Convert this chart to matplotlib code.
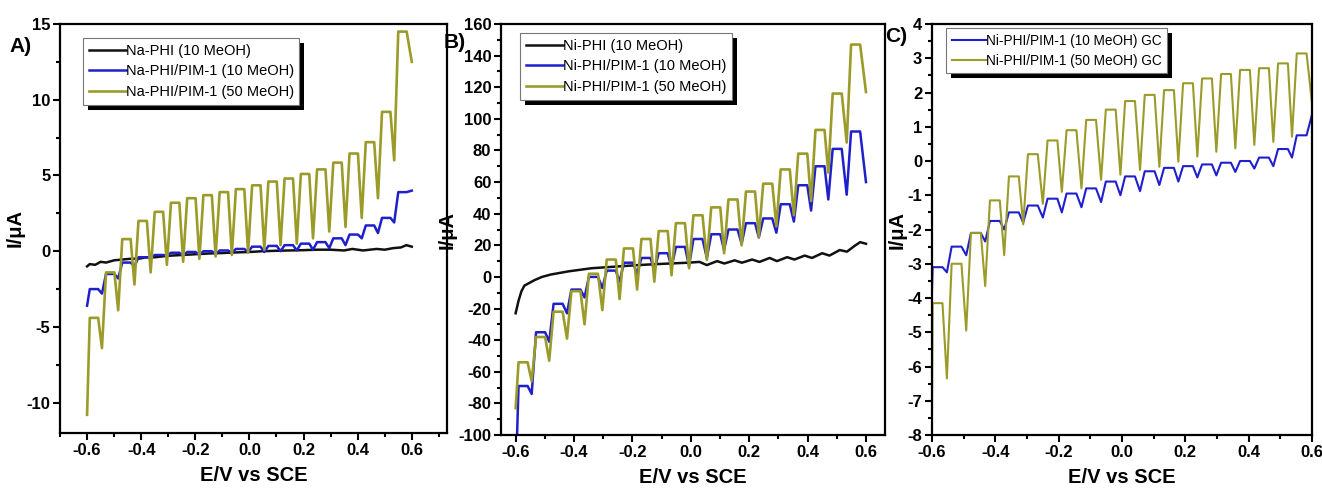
import matplotlib
matplotlib.use("Agg")
import matplotlib.pyplot as plt
from matplotlib.ticker import MultipleLocator
from matplotlib.patches import Rectangle

plt.rcParams['font.family'] = ['Liberation Sans', 'DejaVu Sans']
plt.rcParams['font.weight'] = 'bold'
plt.rcParams['axes.unicode_minus'] = False

GOLD = '#9b9b2a'
BLUE = '#1f1fcc'
BLACK = '#111111'

# ---- Panel A : Na-PHI ----
a_trough_E = [-0.545, -0.485, -0.425, -0.365, -0.305, -0.245, -0.185, -0.125, -0.065, -0.005,
              0.055, 0.115, 0.175, 0.235, 0.295, 0.355, 0.415, 0.475, 0.535]
a50_trough = [-6.4, -3.9, -2.2, -1.4, -0.9, -0.7, -0.5, -0.35, -0.25, -0.1,
              0.1, 0.4, 0.5, 0.85, 1.3, 1.6, 2.2, 3.5, 6.0]
a50_peak = [-4.4, -1.4, 0.8, 2.0, 2.6, 3.2, 3.5, 3.7, 3.9, 4.1,
            4.35, 4.6, 4.8, 5.1, 5.4, 5.85, 6.45, 7.2, 9.2, 14.5]
a50_start, a50_end = -10.8, 12.5
a10_trough = [-2.8, -1.8, -1.0, -0.45, -0.3, -0.3, -0.25, -0.2, -0.1, -0.05,
              -0.05, 0.0, 0.05, 0.1, 0.2, 0.4, 0.85, 1.2, 1.9]
a10_peak = [-2.5, -1.5, -0.75, -0.4, -0.25, -0.1, -0.05, 0.0, 0.05, 0.15,
            0.3, 0.35, 0.4, 0.5, 0.6, 0.85, 1.1, 1.7, 2.2, 3.9]
a10_start, a10_end = -3.6, 4.0
a_black_E = [-0.6, -0.59, -0.57, -0.55, -0.53, -0.5, -0.47, -0.44, -0.41, -0.38, -0.35, -0.3,
             -0.25, -0.2, -0.15, -0.1, -0.05, 0.0, 0.05, 0.1, 0.15, 0.2, 0.25, 0.3, 0.35,
             0.38, 0.42, 0.47, 0.5, 0.53, 0.56, 0.58, 0.6]
a_black_I = [-1.0, -0.85, -0.9, -0.7, -0.75, -0.6, -0.55, -0.5, -0.5, -0.4, -0.4, -0.3,
             -0.25, -0.2, -0.15, -0.12, -0.08, -0.05, 0.0, 0.03, 0.05, 0.07, 0.1, 0.1, 0.05,
             0.15, 0.05, 0.15, 0.1, 0.2, 0.25, 0.4, 0.3]

# ---- Panel B : Ni-PHI ----
b_trough_E = [-0.545, -0.485, -0.424, -0.364, -0.303, -0.244, -0.184, -0.125, -0.066, -0.006,
              0.055, 0.114, 0.174, 0.233, 0.293, 0.353, 0.412, 0.471, 0.534]
b50_trough = [-66, -53, -39, -30, -21, -14, -8, -3, 1, 5.5,
              10.7, 15, 20, 25.5, 32, 39, 48, 66, 85]
b50_peak = [-54, -38, -22, -9, 2, 11, 18, 24, 29, 34,
            39, 44, 49, 54, 59, 68, 78, 93, 116, 147]
b50_start, b50_end = -83, 117
b10_trough = [-74, -41, -23, -13, -7, -3, 2, 4, 6, 7,
              12, 17, 21, 25, 28, 35, 42, 49, 52]
b10_peak = [-69, -35, -17, -8, 0, 4, 9, 12, 15, 19,
            24, 27, 30, 34, 37, 46, 58, 70, 81, 92]
b10_start, b10_end = -130, 60
b_black_E = [-0.6, -0.59, -0.58, -0.57, -0.555, -0.535, -0.51, -0.48, -0.45, -0.42, -0.38,
             -0.34, -0.3, -0.26, -0.22, -0.18, -0.13, -0.07, -0.01, 0.03, 0.055, 0.09, 0.115,
             0.15, 0.175, 0.21, 0.235, 0.27, 0.295, 0.33, 0.355, 0.39, 0.415, 0.45, 0.475,
             0.51, 0.535, 0.56, 0.58, 0.6]
b_black_I = [-23, -15, -9, -5.5, -4, -2, 0, 1.5, 2.5, 3.5, 4.5,
             5.5, 6, 6.5, 7, 7.5, 8, 8.5, 9, 9.5, 7.5, 10, 8.5,
             10.5, 9, 11, 9.5, 12, 10, 12.5, 11, 13.5, 12, 15, 13.5,
             17, 16, 19.5, 22, 21]

# ---- Panel C : Ni-PHI/PIM-1 on GC ----
c_trough_E = [-0.553, -0.492, -0.432, -0.372, -0.312, -0.25, -0.19, -0.128, -0.066, -0.005,
              0.057, 0.118, 0.178, 0.238, 0.298, 0.358, 0.418, 0.478, 0.537]
c50_trough = [-6.35, -4.95, -3.65, -2.75, -1.85, -1.25, -0.9, -0.8, -0.55, -0.4,
              -0.26, -0.17, -0.02, 0.13, 0.27, 0.37, 0.47, 0.56, 0.71]
c50_peak = [-4.15, -3.0, -2.1, -1.15, -0.45, 0.2, 0.6, 0.9, 1.2, 1.5,
            1.75, 1.93, 2.07, 2.27, 2.41, 2.54, 2.66, 2.71, 2.85, 3.14]
c50_start, c50_end = -7.2, 1.7
c10_trough = [-3.25, -2.75, -2.35, -2.0, -1.8, -1.65, -1.5, -1.35, -1.2, -1.0,
              -0.88, -0.7, -0.6, -0.48, -0.42, -0.32, -0.22, -0.15, 0.1]
c10_peak = [-3.1, -2.5, -2.1, -1.75, -1.5, -1.3, -1.1, -0.95, -0.8, -0.6,
            -0.45, -0.3, -0.2, -0.15, -0.1, -0.05, 0.0, 0.1, 0.35, 0.75]
c10_start, c10_end = -3.8, 1.35

# shape of one light-chopping cycle (V after the dark trough)
PERIOD, RISE, FALL = 0.06, 0.015, 0.046


def chopped(trough_E, trough_I, peak_I, start_I, end_I):
    """join trough / plateau readings into one polyline"""
    xs, ys = [-0.6], [start_I]
    starts = [trough_E[0] - PERIOD] + list(trough_E)
    for k, t in enumerate(starts):
        xs += [max(t + RISE, -0.6), t + FALL]
        ys += [peak_I[k], peak_I[k]]
        if k < len(trough_E):
            xs.append(trough_E[k])
            ys.append(trough_I[k])
    xs.append(0.6)
    ys.append(end_I)
    return xs, ys


def style_axes(ax, xlim, ylim, ymaj, ymin):
    ax.set_xlim(*xlim)
    ax.set_ylim(*ylim)
    ax.xaxis.set_major_locator(MultipleLocator(0.2))
    ax.xaxis.set_minor_locator(MultipleLocator(0.1))
    ax.yaxis.set_major_locator(MultipleLocator(ymaj))
    ax.yaxis.set_minor_locator(MultipleLocator(ymin))
    ax.tick_params(which='both', direction='out', top=False, right=False, width=1.5)
    ax.tick_params(which='major', length=5, labelsize=12, pad=2)
    ax.tick_params(which='minor', length=3)
    for sp in ax.spines.values():
        sp.set_linewidth(1.6)
    ax.set_xlabel('E/V vs SCE', fontsize=14.5, fontweight='bold', labelpad=6)
    ax.set_ylabel('I/μA', fontsize=14.5, fontweight='bold', labelpad=1)
    ax.xaxis.set_major_formatter(lambda v, p: f'{v:.1f}')


legends = []


def add_legend(ax, loc_xy, size):
    leg = ax.legend(loc='upper left', bbox_to_anchor=loc_xy, frameon=True,
                    prop={'size': size, 'weight': 'normal'},
                    fancybox=False, edgecolor='#777777', framealpha=1, handlelength=2.5,
                    handletextpad=0.0, borderpad=0.4, labelspacing=0.45, borderaxespad=0)
    leg.get_frame().set_linewidth(0.8)
    legends.append((ax, leg))


fig = plt.figure(figsize=(13.22, 4.95), dpi=100)
axA = fig.add_axes([0.0454, 0.1253, 0.2927, 0.8262])
axB = fig.add_axes([0.379, 0.1212, 0.2904, 0.8303])
axC = fig.add_axes([0.705, 0.1212, 0.2874, 0.8303])

# A
axA.plot(a_black_E, a_black_I, color=BLACK, lw=1.8, label='Na-PHI (10 MeOH)')
x, y = chopped(a_trough_E, a10_trough, a10_peak, a10_start, a10_end)
axA.plot(x, y, color=BLUE, lw=1.8, label='Na-PHI/PIM-1 (10 MeOH)')
x, y = chopped(a_trough_E, a50_trough, a50_peak, a50_start, a50_end)
axA.plot(x, y, color=GOLD, lw=1.9, label='Na-PHI/PIM-1 (50 MeOH)')
style_axes(axA, (-0.7, 0.73), (-12, 15), 5, 2.5)
axA.set_yticks([-10, -5, 0, 5, 10, 15])
add_legend(axA, (0.06, 0.966), 10.5)

# B
axB.plot(b_black_E, b_black_I, color=BLACK, lw=1.8, label='Ni-PHI (10 MeOH)')
x, y = chopped(b_trough_E, b10_trough, b10_peak, b10_start, b10_end)
axB.plot(x, y, color=BLUE, lw=1.8, label='Ni-PHI/PIM-1 (10 MeOH)')
x, y = chopped(b_trough_E, b50_trough, b50_peak, b50_start, b50_end)
axB.plot(x, y, color=GOLD, lw=1.9, label='Ni-PHI/PIM-1 (50 MeOH)')
style_axes(axB, (-0.65, 0.665), (-100, 160), 20, 10)
add_legend(axB, (0.05, 0.978), 10.5)

# C
x, y = chopped(c_trough_E, c10_trough, c10_peak, c10_start, c10_end)
axC.plot(x, y, color=BLUE, lw=1.5, label='Ni-PHI/PIM-1 (10 MeOH) GC')
x, y = chopped(c_trough_E, c50_trough, c50_peak, c50_start, c50_end)
axC.plot(x, y, color=GOLD, lw=1.5, label='Ni-PHI/PIM-1 (50 MeOH) GC')
style_axes(axC, (-0.6, 0.6), (-8, 4), 1, 0.5)
add_legend(axC, (0.037, 0.99), 9.8)

fig.text(21 / 1322, 1 - 46 / 495, 'A)', fontsize=15, fontweight='bold', ha='center', va='center')
fig.text(455 / 1322, 1 - 42 / 495, 'B)', fontsize=15, fontweight='bold', ha='center', va='center')
fig.text(896 / 1322, 1 - 36 / 495, 'C)', fontsize=15, fontweight='bold', ha='center', va='center')

# solid black drop shadow behind each legend box
fig.canvas.draw()
inv = fig.transFigure.inverted()
for ax, leg in legends:
    bb = leg.get_frame().get_window_extent()
    (x0, y0), (x1, y1) = inv.transform([(bb.x0 + 5, bb.y0 - 5), (bb.x1 + 5, bb.y1 - 5)])
    ax.add_patch(Rectangle((x0, y0), x1 - x0, y1 - y0, transform=fig.transFigure,
                           facecolor='black', edgecolor='none', zorder=4.9, clip_on=False))

fig.savefig('out.png', dpi=100)
